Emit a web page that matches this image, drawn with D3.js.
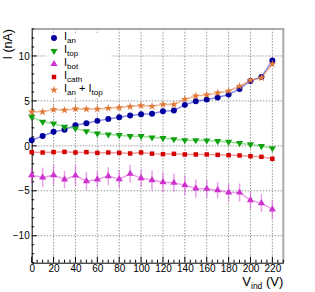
<!DOCTYPE html>
<html><head><meta charset="utf-8">
<script src="https://cdn.jsdelivr.net/npm/d3@7/dist/d3.min.js"></script>
<style>body{margin:0;background:#fff}svg{display:block;font-family:"Liberation Sans",Arial,sans-serif}</style>
</head><body><svg id="c" width="315" height="292"></svg>
<script>
const vind = [0,10,20,30,40,50,60,70,80,90,100,110,120,130,140,150,160,170,180,190,200,210,220];
const iAn = [0.63,1.1,1.56,1.8,2.3,2.52,2.78,3.0,3.19,3.38,3.52,3.58,3.86,3.93,4.56,4.97,5.16,5.38,5.71,6.33,7.22,7.67,9.49];
const iTop = [3.22,2.67,2.49,2.11,1.93,1.63,1.38,1.27,1.19,1.08,1.08,0.93,0.86,0.74,0.63,0.63,0.6,0.52,0.44,0.3,0.16,-0.03,-0.26];
const iBot = [-3.26,-3.52,-3.26,-3.74,-3.3,-3.93,-3.74,-3.37,-3.7,-3.11,-3.59,-3.81,-4.04,-4.11,-4.37,-4.74,-4.78,-4.93,-5.19,-5.19,-6.04,-6.37,-7.07];
const iBotErr = [0.9,1.1,1.1,1.0,1.1,1.0,0.9,1.0,1.0,1.0,1.0,1.1,1.1,1.0,1.1,1.0,1.0,0.9,1.0,1.0,1.0,1.0,1.0];
const iCath = [-0.7,-0.74,-0.7,-0.67,-0.74,-0.7,-0.78,-0.74,-0.78,-0.85,-0.74,-0.87,-0.92,-0.89,-0.96,-0.96,-0.96,-1.0,-1.04,-1.07,-1.15,-1.22,-1.44];
const iSum = [3.78,3.78,4.04,3.97,4.11,4.08,4.1,4.19,4.26,4.37,4.48,4.41,4.6,4.6,5.19,5.56,5.67,5.89,6.11,6.63,7.3,7.56,9.11];
const xTicks = [0,20,40,60,80,100,120,140,160,180,200,220];
const yTicks = [-10,-5,0,5,10];

const L=31.7,R=283.3,T=29,B=262.7;
const svg=d3.select("#c");
const x=d3.scaleLinear().domain([0,230]).range([L,R]);
const y=d3.scaleLinear().domain([-13,13]).range([B,T]);

// grid
const g=svg.append("g");
g.selectAll("line.vx").data(xTicks.filter(d=>d>0)).join("line")
 .attr("x1",d=>x(d)).attr("x2",d=>x(d)).attr("y1",T).attr("y2",B)
 .attr("stroke","#999").attr("stroke-dasharray","1.5,1.5").attr("stroke-width",1);
g.selectAll("line.hy").data(yTicks).join("line")
 .attr("x1",L).attr("x2",R).attr("y1",d=>y(d)).attr("y2",d=>y(d))
 .attr("stroke","#999").attr("stroke-dasharray","1.5,1.5").attr("stroke-width",1);

// legend background
svg.append("rect").attr("x",47).attr("y",33).attr("width",64).attr("height",65).attr("fill","#fff");

// frame
svg.append("line").attr("x1",L).attr("x2",R+1).attr("y1",T).attr("y2",T).attr("stroke","#aaa").attr("stroke-width",2);
svg.append("line").attr("x1",R).attr("x2",R).attr("y1",T).attr("y2",B).attr("stroke","#aaa").attr("stroke-width",2);

// axes
const xAxis=d3.axisBottom(x).tickValues(xTicks).tickSize(0).tickPadding(2);
const xa=svg.append("g").attr("transform",`translate(0,${B})`).call(xAxis);
xa.select(".domain").attr("stroke","#000");
xa.selectAll("text").attr("font-size",10).attr("font-family","Liberation Sans, Arial, sans-serif");
const xminor=d3.range(0,231,5);
svg.append("g").selectAll("line").data(xminor).join("line")
 .attr("x1",d=>x(d)).attr("x2",d=>x(d)).attr("y1",B).attr("y2",d=>B-(d%20===0?6:3))
 .attr("stroke","#000");
const yAxis=d3.axisLeft(y).tickValues(yTicks).tickSize(0).tickPadding(2).tickFormat(d=>d<0?"\u2212"+Math.abs(d):d);
const ya=svg.append("g").attr("transform",`translate(${L},0)`).call(yAxis);
ya.select(".domain").attr("stroke","#000");
ya.selectAll("text").attr("font-size",10).attr("font-family","Liberation Sans, Arial, sans-serif");
const yminor=d3.range(-13,14,1);
svg.append("g").selectAll("line").data(yminor).join("line")
 .attr("y1",d=>y(d)).attr("y2",d=>y(d)).attr("x1",L).attr("x2",d=>L+(d%5===0?5:2.5))
 .attr("stroke","#000");

// titles
svg.append("text").attr("transform",`translate(12,${T}) rotate(-90)`).attr("text-anchor","end")
 .attr("font-size",12.5).text("I (nA)");
const xt=svg.append("text").attr("x",R).attr("y",286).attr("text-anchor","end").attr("font-size",13);
xt.append("tspan").text("V");
xt.append("tspan").attr("font-size",8.5).attr("dy",2.5).text("ind");
xt.append("tspan").attr("dy",-2.5).text(" (V)");

const series=[
 {v:iAn,c:"#00009c",lc:"rgba(60,60,220,0.6)",m:"circle"},
 {v:iTop,c:"#10a010",lc:"rgba(60,200,60,0.55)",m:"tdown"},
 {v:iBot,c:"#cc33cc",lc:"rgba(220,80,220,0.55)",m:"tup",err:iBotErr},
 {v:iCath,c:"#d40000",lc:"rgba(230,60,60,0.5)",m:"square"},
 {v:iSum,c:"#e07838",lc:"rgba(230,130,70,0.6)",m:"star"}
];
const sym={circle:d3.symbol(d3.symbolCircle,28),tdown:d3.symbol(d3.symbolTriangle,22),tup:d3.symbol(d3.symbolTriangle,22),square:d3.symbol(d3.symbolSquare,20),star:d3.symbol(d3.symbolStar,20)};
const line=d3.line().x((d,i)=>x(vind[i])).y(d=>y(d));
series.forEach(s=>{
 if(s.err){
  svg.append("g").selectAll("line").data(s.v).join("line")
   .attr("x1",(d,i)=>x(vind[i])).attr("x2",(d,i)=>x(vind[i]))
   .attr("y1",(d,i)=>y(d+s.err[i])).attr("y2",(d,i)=>y(d-s.err[i]))
   .attr("stroke","rgba(220,80,220,0.55)").attr("stroke-width",1.5);
 }
 svg.append("path").datum(s.v).attr("d",line).attr("fill","none").attr("stroke",s.lc).attr("stroke-width",1.5);
 svg.append("g").selectAll("path").data(s.v).join("path")
  .attr("d",sym[s.m]).attr("fill",s.c)
  .attr("transform",(d,i)=>`translate(${x(vind[i])},${y(d)})${s.m==="tdown"?" rotate(180)":""}`);
});

// legend
const labels=[["an"],["top"],["bot"],["cath"],["an","top"]];
const ly=[38,51,64,77,90];
series.forEach((s,k)=>{
 svg.append("path").attr("d",sym[s.m]).attr("fill",s.c)
  .attr("transform",`translate(54,${ly[k]})${s.m==="tdown"?" rotate(180)":""}`);
 const t=svg.append("text").attr("x",64).attr("y",ly[k]+2).attr("font-size",11);
 t.append("tspan").text("I");
 t.append("tspan").attr("font-size",8).attr("dy",2.5).text(labels[k][0]);
 if(labels[k].length>1){
  t.append("tspan").attr("dy",-2.5).text(" + I");
  t.append("tspan").attr("font-size",8).attr("dy",2.5).text(labels[k][1]);
 }
});
</script></body></html>
